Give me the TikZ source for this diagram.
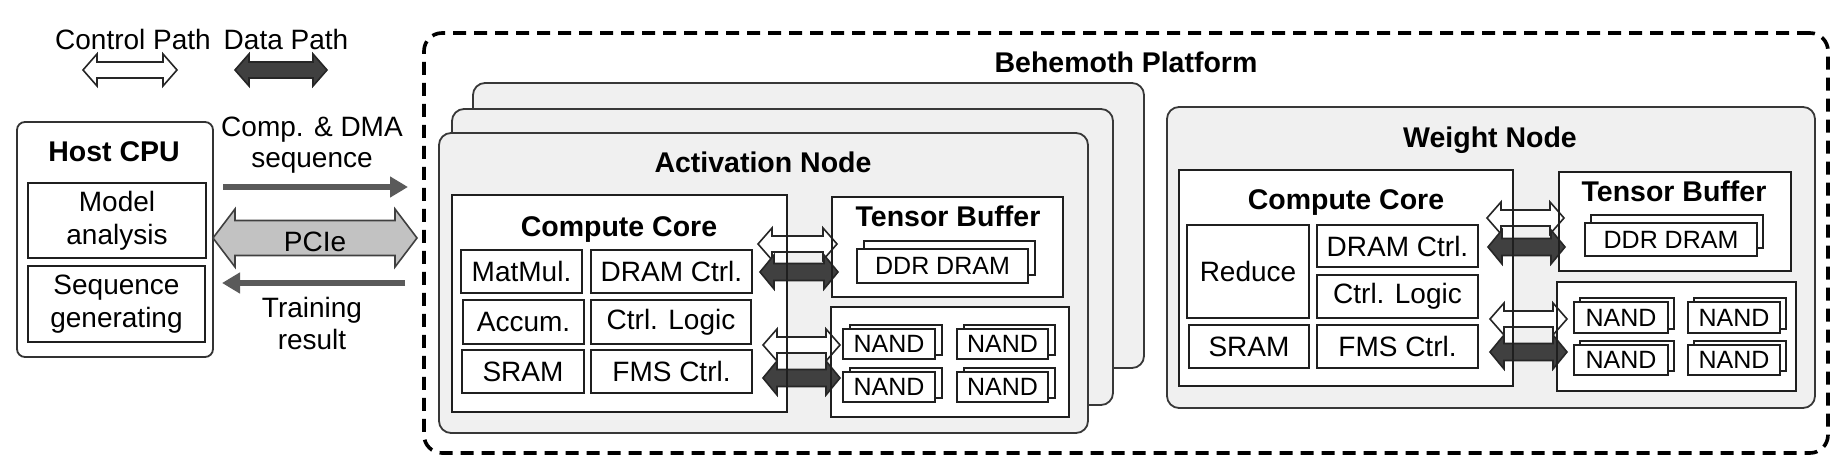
\documentclass[tikz,border=0pt]{standalone}
\usepackage{fontspec}
\setmainfont{Liberation Sans}
\usetikzlibrary{arrows.meta,calc}
\definecolor{cardfill}{HTML}{F0F0F0}
\definecolor{darkarr}{HTML}{404040}
\definecolor{pciefill}{HTML}{C2C2C2}
\definecolor{seqgray}{HTML}{5A5A5A}
% box: optional style, name, x1, y1, x2, y2, text
\newcommand{\bx}[7][]{\node[box,#1,minimum width={#5pt-#3pt},minimum height={#6pt-#4pt}] (#2) at ({(#3+#5)/2},{(#4+#6)/2}) {#7};}
% block double arrow: style, x1, x2, y, shaft half, head half, head length
\newcommand{\dblarr}[7]{\path[#1] (#2,#4) -- ++(#7,-#6) -- ++(0,#6-#5) -- (#3-#7,#4-#5) -- ++(0,#5-#6) -- (#3,#4) -- ++(-#7,#6) -- ++(0,#5-#6) -- (#2+#7,#4+#5) -- ++(0,#6-#5) -- cycle;}
\begin{document}
\begin{tikzpicture}[x=1pt,y=-1pt,
  every node/.style={inner sep=0pt,outer sep=0pt},
  box/.style={draw=black!88,line width=1.8pt,fill=white,align=center,font=\fontsize{28}{33}\selectfont},
  card/.style={draw=black!78,line width=1.8pt,fill=cardfill,rounded corners=12pt},
  hostbox/.style={draw=black!80,line width=1.8pt,fill=white,rounded corners=8pt},
  platform/.style={draw=black,fill=none,line width=3.6pt,dash pattern=on 13pt off 8pt,rounded corners=18pt},
  title/.style={font=\bfseries\fontsize{28.5}{33}\selectfont,anchor=base},
  lbl/.style={font=\fontsize{28}{33}\selectfont,anchor=base},
  small/.style={font=\fontsize{25}{28}\selectfont},
  ctrl/.style={draw=black!85,line width=1.6pt,fill=white},
  data/.style={draw=black!85,line width=1.6pt,fill=darkarr},
  pcie/.style={draw=black!75,line width=1.6pt,fill=pciefill},
  seq/.style={draw=seqgray,line width=6.5pt,-{Triangle[length=18pt,width=20pt]}},
  edge/.style={draw=black!88,line width=1.8pt},
]
\useasboundingbox (0,0) rectangle (1840,470);

% platform
\bx[platform]{plat}{424}{33}{1828}{453}{}
\node[title] (platt) at (1126,73) {Behemoth Platform};

% legend
\node[lbl] (lc) at (133,50) {Control Path};
\node[lbl] (ld) at (286,50) {Data Path};
\dblarr{ctrl}{83}{177}{70}{8}{16}{14}
\dblarr{data}{235}{327}{70}{8}{16}{14}

% host CPU
\bx[hostbox]{host}{17}{122}{213}{357}{}
\node[title] (hostt) at (114,162) {Host CPU};
\bx{model}{28}{183}{206}{258}{Model\\analysis}
\bx{seqg}{28}{266}{205}{342}{Sequence\\generating}

% host links
\coordinate (c1s) at (223,187);
\coordinate (c1e) at (408,187);
\coordinate (c2s) at (405,283);
\coordinate (c2e) at (222,283);
\node[lbl] (cmp1) at (312,137) {Comp. \& DMA};
\node[lbl] (cmp2) at (312,168) {sequence};
\draw[seq] (c1s) -- (c1e);
\dblarr{pcie}{213}{417}{238}{17.5}{29}{22}
\node[lbl] (pcie) at (315,252) {PCIe};
\draw[seq] (c2s) -- (c2e);
\node[lbl] (tr1) at (312,318) {Training};
\node[lbl] (tr2) at (312,350) {result};

% activation node stack
\bx[card]{back}{473}{83}{1144}{368}{}
\bx[card]{mid}{452}{109}{1113}{405}{}
\bx[card]{act}{439}{133}{1088}{433}{}
\node[title] (actt) at (763,173) {Activation Node};

\bx{acc}{452}{195}{787}{412}{}
\node[title] (acct) at (619,237) {Compute Core};
\bx{amm}{461}{250}{582}{293}{MatMul.}
\bx{adc}{591}{250}{752}{293}{DRAM Ctrl.}
\bx{aac}{463}{300}{584}{344}{Accum.}
\bx{acl}{591}{300}{751}{344}{Ctrl. Logic}
\bx{asr}{462}{350}{584}{393}{SRAM}
\bx{afc}{591}{350}{752}{393}{FMS Ctrl.}

\bx{atb}{832}{197}{1063}{297}{}
\node[title] (atbt) at (948,227) {Tensor Buffer};
\bx{addrb}{864}{241}{1035}{275}{}
\bx[small]{addr}{857}{249}{1028}{283}{DDR DRAM}

\bx{anc}{831}{307}{1069}{417}{}
\bx{an1b}{850}{325}{942}{355}{}
\bx[small]{an1}{843}{329}{935}{359}{NAND}
\bx{an2b}{964}{325}{1055}{355}{}
\bx[small]{an2}{957}{329}{1048}{359}{NAND}
\bx{an3b}{850}{368}{942}{398}{}
\bx[small]{an3}{843}{372}{935}{402}{NAND}
\bx{an4b}{964}{368}{1055}{398}{}
\bx[small]{an4}{957}{372}{1048}{402}{NAND}

\dblarr{ctrl}{758}{837}{244}{8}{16}{14}
\dblarr{data}{760}{838}{272}{8.5}{17}{14}
\dblarr{ctrl}{763}{840}{345}{8}{16}{14}
\dblarr{data}{763}{840}{378}{8.5}{17}{14}
\draw[edge] (acc.north east) -- (acc.south east);
\draw[edge] (atb.north west) -- (atb.south west);
\draw[edge] (anc.north west) -- (anc.south west);

% weight node
\bx[card]{wn}{1167}{107}{1815}{408}{}
\node[title] (wnt) at (1490,148) {Weight Node};
\bx{wcc}{1179}{170}{1513}{386}{}
\node[title] (wcct) at (1346,210) {Compute Core};
\bx{wrd}{1187}{225}{1309}{318}{Reduce}
\bx{wdc}{1317}{225}{1478}{267}{DRAM Ctrl.}
\bx{wcl}{1317}{275}{1478}{318}{Ctrl. Logic}
\bx{wsr}{1189}{325}{1309}{368}{SRAM}
\bx{wfc}{1317}{325}{1478}{368}{FMS Ctrl.}

\bx{wtb}{1559}{172}{1791}{271}{}
\node[title] (wtbt) at (1674,202) {Tensor Buffer};
\bx{wddrb}{1591}{215}{1763}{248}{}
\bx[small]{wddr}{1585}{223}{1757}{256}{DDR DRAM}

\bx{wnc}{1557}{282}{1796}{391}{}
\bx{wn1b}{1580}{298}{1674}{329}{}
\bx[small]{wn1}{1574}{302}{1668}{333}{NAND}
\bx{wn2b}{1694}{298}{1786}{329}{}
\bx[small]{wn2}{1688}{302}{1780}{333}{NAND}
\bx{wn3b}{1580}{341}{1674}{371}{}
\bx[small]{wn3}{1574}{345}{1668}{375}{NAND}
\bx{wn4b}{1694}{341}{1786}{371}{}
\bx[small]{wn4}{1688}{345}{1780}{375}{NAND}

\dblarr{ctrl}{1487}{1564}{218}{8}{16}{14}
\dblarr{data}{1488}{1565}{247}{8.5}{17}{14}
\dblarr{ctrl}{1490}{1567}{319}{8}{16}{14}
\dblarr{data}{1490}{1567}{352}{8.5}{17}{14}
\draw[edge] (wcc.north east) -- (wcc.south east);
\draw[edge] (wtb.north west) -- (wtb.south west);
\draw[edge] (wnc.north west) -- (wnc.south west);
\end{tikzpicture}
\end{document}
